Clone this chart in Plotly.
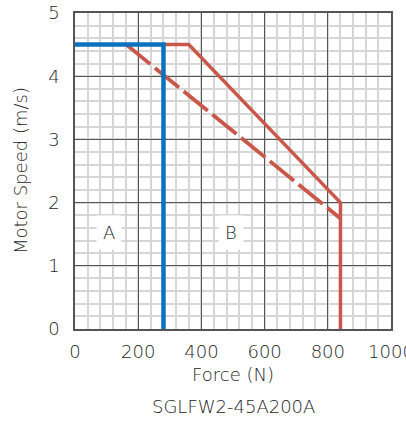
import plotly.graph_objects as go

# Data
blue_x = [0, 280, 280]
blue_y = [4.5, 4.5, 0]
red_solid_x = [280, 360, 840, 840]
red_solid_y = [4.5, 4.5, 2.0, 0]
red_dash_x = [162, 840]
red_dash_y = [4.5, 1.75]
x_ticks = [0, 200, 400, 600, 800, 1000]
y_ticks = [0, 1, 2, 3, 4, 5]
region_labels = ["A", "B"]
region_x = [109, 495]
region_y = [1.53, 1.53]

RED = "#c9574a"
BLUE = "#0b72c0"
FONT = "DejaVu Sans, sans-serif"
TXT = "#1e1e1e"
W = 300

fig = go.Figure()
fig.add_trace(go.Scatter(x=red_dash_x, y=red_dash_y, mode="lines",
                         line=dict(color=RED, width=3.8, dash="31px,6px"),
                         hoverinfo="skip", showlegend=False))
fig.add_trace(go.Scatter(x=red_solid_x, y=red_solid_y, mode="lines",
                         line=dict(color=RED, width=3.5),
                         hoverinfo="skip", showlegend=False))
fig.add_trace(go.Scatter(x=blue_x, y=blue_y, mode="lines",
                         line=dict(color=BLUE, width=4.5),
                         hoverinfo="skip", showlegend=False))

for t, xv, yv in zip(region_labels, region_x, region_y):
    fig.add_annotation(x=xv, y=yv, text=t, showarrow=False,
                       font=dict(size=18, color=TXT, family=FONT, weight=W),
                       bgcolor="white", borderpad=6)

fig.add_annotation(xref="paper", yref="paper", x=0.5, y=0, yanchor="middle",
                   yshift=-45, text="Force (N)", showarrow=False,
                   font=dict(size=18, color=TXT, family=FONT, weight=W))
fig.add_annotation(xref="paper", yref="paper", x=0.5, y=0, yanchor="middle",
                   yshift=-77, text="SGLFW2-45A200A", showarrow=False,
                   font=dict(size=18, color=TXT, family=FONT, weight=W))
fig.add_annotation(xref="paper", yref="paper", x=0, y=0.5, xanchor="center",
                   xshift=-55, textangle=-90, text="Motor Speed (m/s)", showarrow=False,
                   font=dict(size=18, color=TXT, family=FONT, weight=W))

axis_common = dict(showgrid=True, gridcolor="#555", gridwidth=1,
                   showline=True, linecolor="#555", linewidth=1.5, mirror=True,
                   zeroline=False, ticks="", automargin=False,
                   ticklabeloverflow="allow",
                   tickfont=dict(size=18, color=TXT, family=FONT, weight=W))

fig.update_xaxes(range=[0, 1000], tickvals=x_ticks, ticktext=[str(v) for v in x_ticks],
                 minor=dict(dtick=40, showgrid=True, gridcolor="#d6d6d6", gridwidth=1.5),
                 ticklabelstandoff=6, **axis_common)
fig.update_yaxes(range=[0, 5], tickvals=y_ticks, ticktext=[str(v) for v in y_ticks],
                 minor=dict(dtick=0.2, showgrid=True, gridcolor="#d6d6d6", gridwidth=1.5),
                 ticklabelstandoff=10, **axis_common)

fig.update_layout(width=406, height=441,
                  margin=dict(l=75, r=15, t=13, b=112),
                  paper_bgcolor="white", plot_bgcolor="white",
                  font=dict(family=FONT, color=TXT))

fig.write_html("out.html", config={"displayModeBar": False},
               post_script="document.body.style.margin='0';")
